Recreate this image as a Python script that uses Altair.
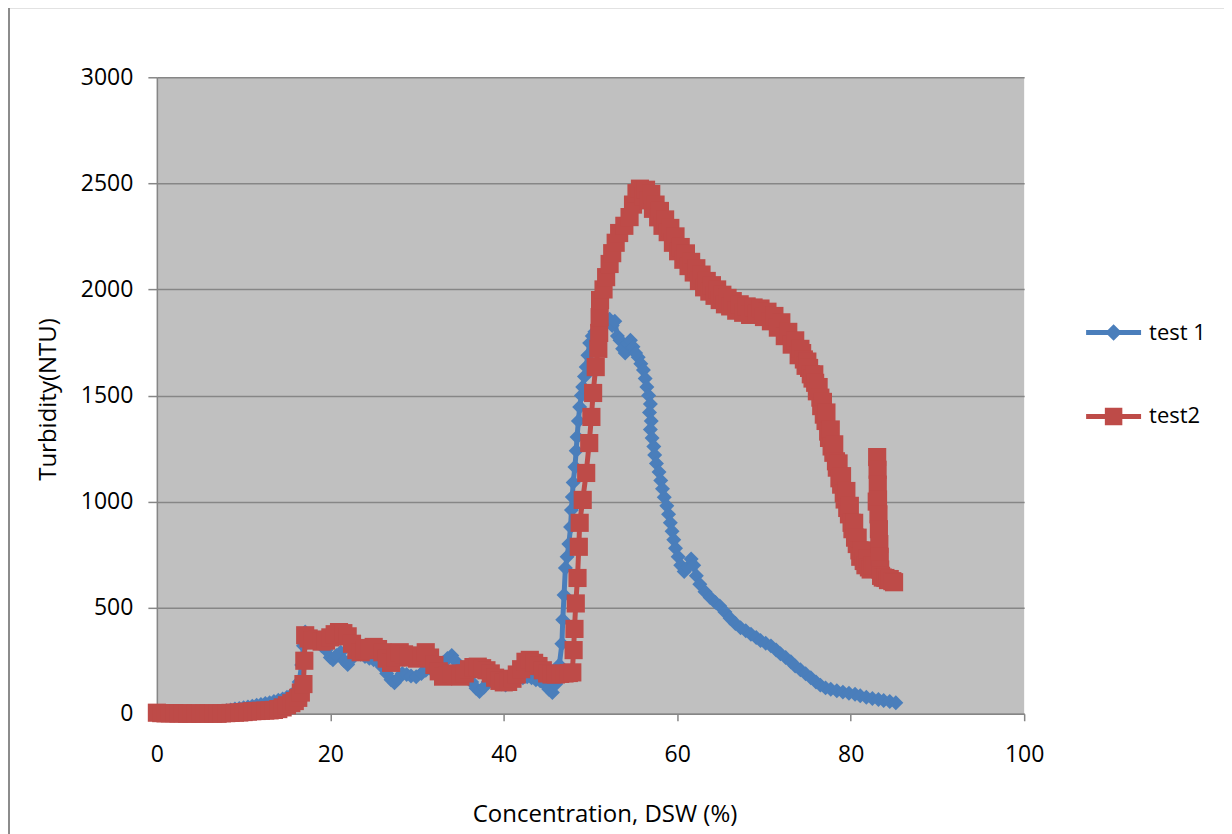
import altair as alt
import pandas as pd

series_names = ["test 1", "test2"]

blue_x = [0, 0.5, 1, 1.5, 2, 2.5, 3, 3.5, 4, 4.5, 5, 5.5, 6, 6.5, 7, 7.5, 8, 8.5, 9, 9.5,
          10, 10.5, 11, 11.5, 12, 12.5, 13, 13.5, 14, 14.5, 15, 15.5, 16, 16.4, 16.7, 16.9, 17.1, 17.4, 17.8, 18.2,
          18.6, 19, 19.5, 20, 20.3, 20.7, 21.2, 21.6, 22, 22.5, 23, 23.5, 24, 24.5, 25, 25.5, 26, 26.5, 27, 27.4,
          27.8, 28.3, 28.8, 29.3, 29.9, 30.5, 31, 31.5, 32, 32.5, 33, 33.5, 34, 34.4, 34.8, 35.3, 35.8, 36.3, 36.8, 37.2,
          37.7, 38.2, 38.7, 39.2, 39.7, 40.2, 40.7, 41.2, 41.7, 42.2, 42.7, 43.2, 43.7, 44.2, 44.7, 45.2, 45.6, 46, 46.4, 46.7,
          46.8, 46.95, 47.1, 47.3, 47.5, 47.7, 47.8, 47.9, 48.0, 48.2, 48.35, 48.45, 48.6, 48.75, 48.95, 49.1, 49.3, 49.5, 49.7, 49.9,
          50.2, 50.5, 50.9, 51.3, 51.7, 52.2, 52.5, 52.8, 53.1, 53.4, 53.7, 54.0, 54.3, 54.6, 54.9, 55.2, 55.5, 55.8, 56.1, 56.3,
          56.5, 56.7, 56.9, 56.8, 57.0, 56.9, 57.1, 57.3, 57.4, 57.6, 57.9, 58.1, 58.3, 58.5, 58.8, 59.0, 59.2, 59.4, 59.6, 59.8,
          60.1, 60.4, 60.8, 61.2, 61.6, 61.9, 62.2, 62.6, 63.2, 63.8, 64.4, 64.9,
          65.5, 66.1, 66.7, 67.3, 67.9, 68.5, 69.1, 69.6, 70.2, 70.8, 71.4, 71.9, 72.5, 73.1, 73.6, 74.2, 74.8, 75.4, 76.0, 76.5,
          77.1, 77.7, 78.4, 79.1, 79.8, 80.5, 81.1, 81.8, 82.5, 83.2, 83.8, 84.5, 85.2]
blue_y = [5, 3, 2, 4, 3, 2, 3, 4, 2, 3, 4, 5, 6, 7, 8, 10, 14, 18, 22, 25,
          28, 32, 36, 40, 44, 48, 52, 58, 64, 70, 78, 88, 105, 150, 230, 320, 385, 370, 355, 345,
          335, 320, 300, 265, 255, 275, 290, 250, 232, 260, 285, 280, 270, 262, 255, 245, 220, 190, 160, 146,
          165, 190, 185, 178, 175, 190, 205, 215, 220, 225, 240, 260, 275, 250, 225, 200, 175, 150, 120, 105,
          125, 150, 160, 150, 140, 135, 145, 155, 165, 170, 175, 170, 160, 155, 140, 115, 100, 140, 230, 330,
          443, 560, 687, 740, 800, 880, 960, 1022, 1090, 1163, 1240, 1305, 1380, 1446, 1500, 1540, 1590, 1634, 1690, 1747,
          1780, 1800, 1825, 1840, 1852, 1860, 1830, 1850, 1780, 1760, 1720, 1700, 1745, 1760, 1730, 1700, 1680, 1650, 1620, 1580,
          1540, 1500, 1460, 1420, 1380, 1340, 1300, 1260, 1220, 1180, 1140, 1100, 1060, 1020, 980, 940, 900, 860, 820, 780,
          740, 700, 670, 690, 730, 700, 650, 610, 575, 548, 525, 508,
          480, 450, 425, 405, 391, 375, 360, 345, 332, 320, 300, 283, 265, 245, 225, 208, 189, 170, 150, 135,
          122, 115, 108, 102, 97, 92, 85, 78, 72, 67, 62, 58, 52]

red_x = [0, 0.5, 1, 1.5, 2, 2.5, 3, 3.5, 4, 4.5, 5, 5.5, 6, 6.5, 7, 7.5, 8, 8.5, 9, 9.5,
         10, 10.5, 11, 11.5, 12, 12.5, 13, 13.5, 14, 14.5, 15, 15.5, 15.9, 16.3, 16.6, 16.9, 17.0, 17.1, 17.5, 18,
         18.5, 19, 19.5, 20, 20.5, 21, 21.5, 22, 22.5, 23, 23.5, 24, 24.5, 25, 25.5, 26, 26.5, 27, 27.5, 28,
         28.5, 29, 29.5, 30, 30.5, 31, 31.5, 32, 32.5, 33, 33.5, 34, 34.5, 35, 35.5, 36, 36.5, 37, 37.5, 38,
         38.5, 39, 39.5, 40, 40.5, 41, 41.5, 42, 42.5, 43, 43.5, 44, 44.5, 45, 45.5, 46, 46.5, 47, 47.5, 47.9,
         48.05, 48.15, 48.3, 48.5, 48.65, 48.75, 49.1, 49.5, 49.85, 50.1, 50.3, 50.6, 50.9, 51.0, 51.05, 51.1, 51.5, 51.8, 52.2, 52.5,
         52.9, 53.3, 53.9, 54.5, 54.9, 55.3, 55.7,
         56.1, 56.4, 56.7, 57.0, 57.2, 57.5, 57.8, 58.0, 58.3, 58.6, 58.9, 59.2, 59.5, 59.8, 60.1, 60.4, 60.7, 61.0, 61.3, 61.6,
         61.9, 62.2, 62.5, 62.8, 63.1, 63.4, 63.7, 64.0, 64.3, 64.6, 64.9, 65.2, 65.5, 65.8, 66.1, 66.4, 66.8, 67.2, 67.6, 68.0,
         68.4, 68.8, 69.2, 69.6, 70.0, 70.4, 70.8, 71.2, 71.6, 72.0, 72.4, 72.8, 73.2, 73.6,
         74.0, 74.2, 74.4, 74.6, 74.8, 75.0, 75.2, 75.4, 75.6, 75.8, 75.9, 76.1, 76.3, 76.5, 76.6, 76.8, 76.9, 77.1, 77.2, 77.4,
         77.5, 77.7, 77.8, 78.0, 78.1, 78.3, 78.4, 78.6, 78.7, 78.9, 79.0, 79.2, 79.3, 79.5, 79.6, 79.8, 79.9, 80.1, 80.2, 80.4,
         80.5, 80.7, 80.8, 81.0, 81.1, 81.3, 81.5, 81.7, 81.9, 82.1, 82.3, 82.5, 82.7,
         83.0, 83.05, 83.1, 83.12, 83.15, 83.2, 83.25, 83.3, 83.35, 83.4, 83.5, 83.7, 84.0, 84.3, 84.5, 84.8, 85.0]
red_y = [5, 3, 2, 2, 3, 1, 2, 0, 1, 2, 0, 1, 2, 1, 0, 2, 3, 4, 5, 6,
         8, 10, 12, 13, 14, 15, 16, 18, 22, 30, 40, 50, 60, 75, 100, 140, 250, 370, 355, 345,
         350, 340, 345, 360, 375, 385, 380, 365, 330, 300, 290, 300, 310, 315, 305, 290, 260, 240, 265, 290,
         280, 270, 265, 260, 275, 290, 265, 230, 200, 175, 180, 190, 180, 175, 190, 210, 220, 222, 215, 205,
         190, 170, 155, 148, 150, 165, 185, 210, 245, 254, 240, 225, 205, 190, 185, 185, 188, 190, 192, 195,
         300, 400, 520, 640, 787, 900, 1008, 1135, 1276, 1399, 1512, 1634, 1720, 1795, 1870, 1950, 2000, 2058, 2120, 2171,
         2220, 2266, 2300, 2341, 2400, 2454, 2475,
         2440, 2470, 2420, 2450, 2380, 2400, 2340, 2370, 2300, 2330, 2270, 2290, 2220, 2250, 2180, 2200, 2140, 2170, 2110, 2130,
         2080, 2100, 2040, 2070, 2010, 2040, 1990, 2020, 1970, 2000, 1950, 1975, 1930, 1960, 1920, 1945, 1900, 1930, 1890, 1920,
         1880, 1915, 1885, 1910, 1870, 1895, 1850, 1875, 1820, 1845, 1780, 1800, 1740, 1760,
         1690, 1720, 1700, 1670, 1640, 1660, 1630, 1600, 1580, 1600, 1560, 1520, 1540, 1490, 1450, 1470, 1410, 1380, 1420, 1330,
         1300, 1340, 1260, 1230, 1270, 1190, 1160, 1180, 1110, 1080, 1120, 1040, 1010, 1050, 970, 940, 980, 900, 870, 900,
         830, 800, 830, 770, 740, 770, 720, 700, 730, 690, 680, 700, 700,
         1000, 1210, 1150, 1080, 1010, 940, 870, 800, 740, 680, 650, 642, 640, 630, 635, 625, 620]

x_ticks = [0, 20, 40, 60, 80, 100]
y_ticks = [0, 500, 1000, 1500, 2000, 2500, 3000]

BLUE = "#4A7EBB"
RED = "#BE4B48"
GRID = "#868686"
FONT = "Open Sans"

df = pd.DataFrame({
    "x": blue_x + red_x,
    "y": blue_y + red_y,
    "series": [series_names[0]] * len(blue_x) + [series_names[1]] * len(red_x),
    "idx": list(range(len(blue_x))) + list(range(len(red_x))),
})

x_enc = alt.X("x:Q", scale=alt.Scale(domain=[0, 100], nice=False, zero=False),
              axis=alt.Axis(values=x_ticks, title="Concentration, DSW (%)", grid=False,
                            tickSize=7, labelPadding=23, labelFlush=False, labelOverlap=False,
                            titleX=448, titleY=108, titleAlign="center", titleBaseline="alphabetic"))
y_enc = alt.Y("y:Q", scale=alt.Scale(domain=[0, 3000], nice=False),
              axis=alt.Axis(values=y_ticks, format="d", title="Turbidity(NTU)", grid=True,
                            tickSize=9, labelPadding=15, labelFlush=False, labelOverlap=False,
                            titleX=-101, titleY=322, titleAngle=270, titleAlign="center",
                            titleBaseline="alphabetic"))

base = alt.Chart(df)


def line_layer(name, colour):
    return base.transform_filter(alt.datum.series == name).mark_line(
        strokeWidth=5, strokeJoin="round", clip=False, color=colour
    ).encode(x=x_enc, y=y_enc, order=alt.Order("idx:Q"))


def point_layer(name, shape, size, colour):
    return base.transform_filter(alt.datum.series == name).mark_point(
        filled=True, shape=shape, size=size, opacity=1, clip=False, color=colour
    ).encode(x=x_enc, y=y_enc)


P_BLUE = "M-1,-0.09H-0.21L0,-0.3L0.21,-0.09H1V0.09H0.21L0,0.3L-0.21,0.09H-1Z"
P_RED = "M-1,-0.09H-0.318V-0.318H0.318V-0.09H1V0.09H0.318V0.318H-0.318V0.09H-1Z"

leg = alt.Legend(title=None, orient="none", legendX=930, legendY=228, symbolSize=3025,
                 labelFont=FONT, labelFontSize=22, labelColor="black", labelOffset=8,
                 rowPadding=45, padding=0, symbolStrokeWidth=0, symbolOpacity=1)

legend_layer = base.transform_filter(alt.datum.x < -1000).mark_point(
    filled=True, opacity=1, size=3025
).encode(
    x=x_enc, y=y_enc,
    color=alt.Color("series:N", scale=alt.Scale(domain=series_names, range=[BLUE, RED]), legend=leg),
    shape=alt.Shape("series:N", scale=alt.Scale(domain=series_names, range=[P_BLUE, P_RED]), legend=leg),
)

border = alt.Chart(pd.DataFrame({"b": [0]})).mark_rect(
    fill="transparent", stroke="#8C8C8C", strokeWidth=2, clip=False
).encode(x=alt.value(-148), x2=alt.value(3000), y=alt.value(-70), y2=alt.value(3000))

chart = alt.layer(
    border,
    line_layer(series_names[0], BLUE), point_layer(series_names[0], "diamond", 225, BLUE),
    line_layer(series_names[1], RED), point_layer(series_names[1], "square", 330, RED),
    legend_layer,
).properties(
    width=868, height=637,
    padding={"left": 149, "top": 69, "right": 200, "bottom": 124},
    autosize=alt.AutoSizeParams(type="none"),
).configure_view(
    fill="#C0C0C0", stroke=None
).configure_axis(
    labelFont=FONT, labelFontSize=23, labelColor="black",
    titleFont=FONT, titleFontSize=24, titleFontWeight="normal", titleColor="black",
    domainColor=GRID, domainWidth=1.5, tickColor=GRID, tickWidth=1.5,
    gridColor=GRID, gridWidth=1.5,
)

chart.save("out.html", embed_options={"renderer": "svg", "actions": False})
